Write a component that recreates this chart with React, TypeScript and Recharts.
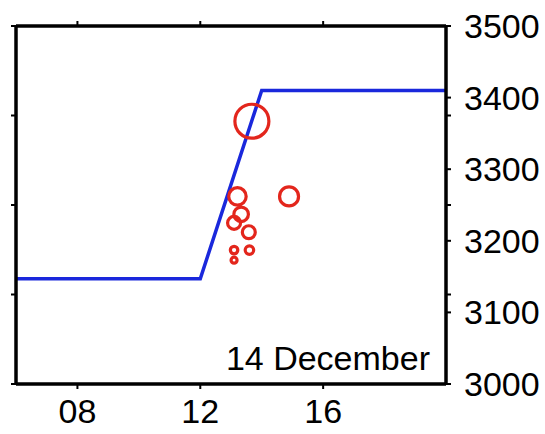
import React from 'react'
import { ComposedChart, Line, Scatter, XAxis, YAxis, ZAxis } from 'recharts'

// modelled level (step)
const stepHours = [6, 12, 14, 20]
const stepLevel = [3147, 3147, 3410, 3410]

// events: hour, level, relative size
const eventHours = [13.68, 13.21, 14.89, 13.33, 13.1, 13.58, 13.1, 13.6, 13.1]
const eventLevel = [3367, 3262, 3262, 3237, 3225, 3212, 3187, 3187, 3173]
const eventSize = [289, 76, 90, 53, 42, 42, 14, 18, 9]

const xTicks = [8, 12, 16]
const rightTicks = [3000, 3100, 3125, 3200, 3250, 3300, 3375, 3400, 3500]
const leftTicks = [3000, 3125, 3250, 3375, 3500]
const dateLabel = '14 December'

const stepData = stepHours.map((t, i) => ({ t, v: stepLevel[i] }))
const eventData = eventHours.map((t, i) => ({ t, v: eventLevel[i], z: eventSize[i] }))

const font = 'Liberation Sans, Arial, Helvetica, sans-serif'
const tickStyle = { fill: '#000', fontSize: 34, fontFamily: font }
const axisLine = { stroke: '#000', strokeWidth: 3.5 }
const tickLine = { stroke: '#000', strokeWidth: 2 }

export default function App() {
  return (
    <div style={{ position: 'absolute', left: 0, top: 0, width: 545, height: 434, background: '#fff' }}>
      <ComposedChart width={545} height={434} margin={{ top: 0, right: 0, bottom: 0, left: 0 }}>
        <XAxis
          xAxisId="bottom"
          type="number"
          dataKey="t"
          domain={[6, 20]}
          ticks={xTicks}
          interval={0}
          tickFormatter={(v) => String(v).padStart(2, '0')}
          height={50}
          tickSize={5}
          tickMargin={10}
          axisLine={axisLine}
          tickLine={tickLine}
          tick={tickStyle}
          allowDataOverflow
        />
        <XAxis
          xAxisId="top"
          orientation="top"
          type="number"
          dataKey="t"
          domain={[6, 20]}
          ticks={xTicks}
          interval={0}
          tickFormatter={() => ''}
          height={26}
          tickSize={5}
          axisLine={axisLine}
          tickLine={tickLine}
          allowDataOverflow
        />
        <YAxis
          yAxisId="left"
          type="number"
          dataKey="v"
          domain={[3000, 3500]}
          ticks={leftTicks}
          interval={0}
          tickFormatter={() => ''}
          width={16}
          tickSize={5}
          axisLine={axisLine}
          tickLine={tickLine}
          allowDataOverflow
        />
        <YAxis
          yAxisId="right"
          orientation="right"
          type="number"
          dataKey="v"
          domain={[3000, 3500]}
          ticks={rightTicks}
          interval={0}
          tickFormatter={(v) => (v % 100 === 0 ? String(v) : '')}
          width={99}
          tickSize={5}
          tickMargin={13}
          axisLine={axisLine}
          tickLine={tickLine}
          tick={tickStyle}
          allowDataOverflow
        />
        <ZAxis dataKey="z" type="number" domain={[0, 300]} range={[0, 942]} />
        <Line
          xAxisId="top"
          yAxisId="left"
          data={stepData}
          dataKey="v"
          type="linear"
          stroke="none"
          dot={false}
          activeDot={false}
          isAnimationActive={false}
        />
        <Line
          xAxisId="bottom"
          yAxisId="right"
          data={stepData}
          dataKey="v"
          type="linear"
          stroke="#1a28dc"
          strokeWidth={3.5}
          dot={false}
          activeDot={false}
          isAnimationActive={false}
        />
        <Scatter
          xAxisId="bottom"
          yAxisId="right"
          data={eventData}
          dataKey="v"
          fill="none"
          stroke="#e3261c"
          strokeWidth={3.2}
          isAnimationActive={false}
        />
      </ComposedChart>
      <svg width={545} height={434} style={{ position: 'absolute', left: 0, top: 0, pointerEvents: 'none' }}>
        <text x={430} y={370} textAnchor="end" fontSize={34} fontFamily={font} fill="#000">
          {dateLabel}
        </text>
      </svg>
    </div>
  )
}
